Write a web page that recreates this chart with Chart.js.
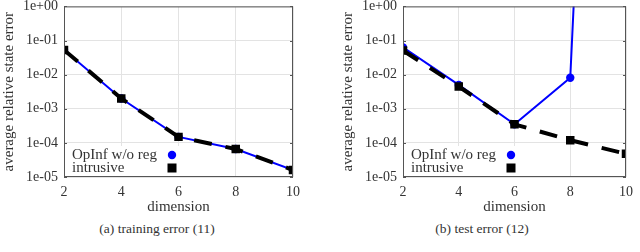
<!DOCTYPE html>
<html>
<head>
<meta charset="utf-8">
<script src="https://cdn.jsdelivr.net/npm/chart.js@4"></script>
<style>
  body { margin: 0; background: #fff; }
  .panel { position: absolute; top: 0; width: 320px; height: 252px; }
  .panel canvas { position: absolute; left: 0; }
  .caption { position: absolute; top: 221px; width: 320px; text-align: center;
             font-family: "Liberation Serif", serif; font-size: 13.5px; color: #333; }
</style>
</head>
<body>
<div class="panel" style="left:0">
  <canvas id="trainChart" width="320" height="228" style="top:-8px"></canvas>
  <div class="caption" style="left:-3px">(a) training error (11)</div>
</div>
<div class="panel" style="left:320px">
  <canvas id="testChart" width="320" height="228" style="top:-8px"></canvas>
  <div class="caption" style="left:2px">(b) test error (12)</div>
</div>

<script>
    // dimensii (axa x)
    var dims = [2, 4, 6, 8, 10];

    // eroarea de antrenare
    var trainOpInf = [0.053, 0.0020, 1.5e-4, 6.6e-5, 1.6e-5];
    var trainIntrusive = [0.053, 0.0020, 1.5e-4, 6.6e-5, 1.6e-5];

    // eroarea de test (OpInf explodeaza la dimensiunea 10)
    var testOpInf = [0.063, 0.0050, 3.5e-4, 0.0081, 3e32];
    var testIntrusive = [0.051, 0.0045, 3.5e-4, 1.2e-4, 4.8e-5];

    var yTickValues = [1e-5, 1e-4, 1e-3, 1e-2, 1e-1, 1];
    var yTickLabels = ['1e-05', '1e-04', '1e-03', '1e-02', '1e-01', '1e+00'];
    var xTickValues = [2, 4, 6, 8, 10];

    var legendLabels = ['OpInf w/o reg', 'intrusive'];

    var serif = "'Liberation Serif', serif";
    var textColor = '#333';

    Chart.defaults.font.family = serif;
    Chart.defaults.color = textColor;

    function toPoints(ys) {
        return dims.map(function (d, i) { return { x: d, y: ys[i] }; });
    }

    // rama, liniute pe margini si legenda
    var framePlugin = {
        id: 'frame',
        beforeDatasetsDraw: function (chart) {
            var a = chart.chartArea;
            var ctx = chart.ctx;
            ctx.save();
            // cutia legendei (opaca)
            ctx.fillStyle = '#fff';
            ctx.fillRect(a.left + 1, a.bottom - 31, 124, 30);
            ctx.restore();
        },
        afterDatasetsDraw: function (chart) {
            var a = chart.chartArea;
            var ctx = chart.ctx;
            var y = chart.scales.y;
            ctx.save();
            ctx.strokeStyle = '#555';
            ctx.lineWidth = 1;
            ctx.strokeRect(a.left + 0.5, a.top + 0.5, a.right - a.left - 1, a.bottom - a.top - 1);
            ctx.beginPath();
            y.ticks.forEach(function (t) {
                var py = Math.round(y.getPixelForValue(t.value)) + 0.5;
                ctx.moveTo(a.right, py);
                ctx.lineTo(a.right - 3, py);
                ctx.moveTo(a.left, py);
                ctx.lineTo(a.left + 3, py);
            });
            ctx.stroke();

            // legenda: text la stanga, marcaj la dreapta
            ctx.font = '15px ' + serif;
            ctx.fillStyle = textColor;
            ctx.textBaseline = 'middle';
            ctx.textAlign = 'left';
            var lx = a.left + 8;
            var mx = a.left + 108;
            var r1 = a.bottom - 22, r2 = a.bottom - 9;
            ctx.fillText(legendLabels[0], lx, r1);
            ctx.fillText(legendLabels[1], lx, r2);
            ctx.fillStyle = '#0000ff';
            ctx.beginPath();
            ctx.arc(mx, r1, 4.2, 0, Math.PI * 2);
            ctx.fill();
            ctx.fillStyle = '#000';
            ctx.fillRect(mx - 4.5, r2 - 4.5, 9, 9);
            ctx.restore();
        }
    };

    function makeChart(id, opinf, intrusive, yWidth, rightPad, yTitlePad) {
        var ctx = document.getElementById(id).getContext('2d');
        return new Chart(ctx, {
            type: 'line',
            data: {
                datasets: [{
                    label: legendLabels[1],
                    data: toPoints(intrusive),
                    borderColor: '#000',
                    backgroundColor: '#000',
                    borderWidth: 4,
                    borderDash: [18, 14],
                    pointStyle: 'rect',
                    pointRadius: 6,
                    pointBorderWidth: 0,
                    order: 0
                }, {
                    label: legendLabels[0],
                    data: toPoints(opinf),
                    borderColor: '#0000ff',
                    backgroundColor: '#0000ff',
                    borderWidth: 2,
                    pointStyle: 'circle',
                    pointRadius: 4.2,
                    pointBorderWidth: 0,
                    order: 1
                }]
            },
            options: {
                responsive: false,
                animation: false,
                layout: { padding: { top: 0, right: rightPad, left: 0, bottom: 0 } },
                plugins: {
                    legend: { display: false },
                    tooltip: { enabled: false }
                },
                scales: {
                    x: {
                        type: 'linear',
                        min: 2,
                        max: 10,
                        afterBuildTicks: function (s) {
                            s.ticks = xTickValues.map(function (v) { return { value: v }; });
                        },
                        afterFit: function (s) { s.height = 43; },
                        grid: { color: '#e3e3e3', drawTicks: false },
                        border: { display: false },
                        ticks: { padding: 7, color: textColor, font: { family: serif, size: 14 } },
                        title: {
                            display: true, text: 'dimension', color: textColor,
                            font: { family: serif, size: 15 }, padding: { top: 0, bottom: 4 }
                        }
                    },
                    y: {
                        type: 'logarithmic',
                        min: 1e-5,
                        max: 1,
                        afterBuildTicks: function (s) {
                            s.ticks = yTickValues.map(function (v) { return { value: v }; });
                        },
                        afterFit: function (s) { s.width = yWidth; },
                        grid: { color: '#e3e3e3', drawTicks: false },
                        border: { display: false },
                        ticks: {
                            padding: 6, color: textColor, font: { family: serif, size: 14 },
                            callback: function (v, i) { return yTickLabels[i]; }
                        },
                        title: {
                            display: true, text: 'average relative state error', color: textColor,
                            font: { family: serif, size: 15 }, padding: { top: yTitlePad, bottom: 0 }
                        }
                    }
                }
            },
            plugins: [framePlugin]
        });
    }

    makeChart('trainChart', trainOpInf, trainIntrusive, 64, 27, 0);
    makeChart('testChart', testOpInf, testIntrusive, 83, 7, 19);
</script>
</body>
</html>
